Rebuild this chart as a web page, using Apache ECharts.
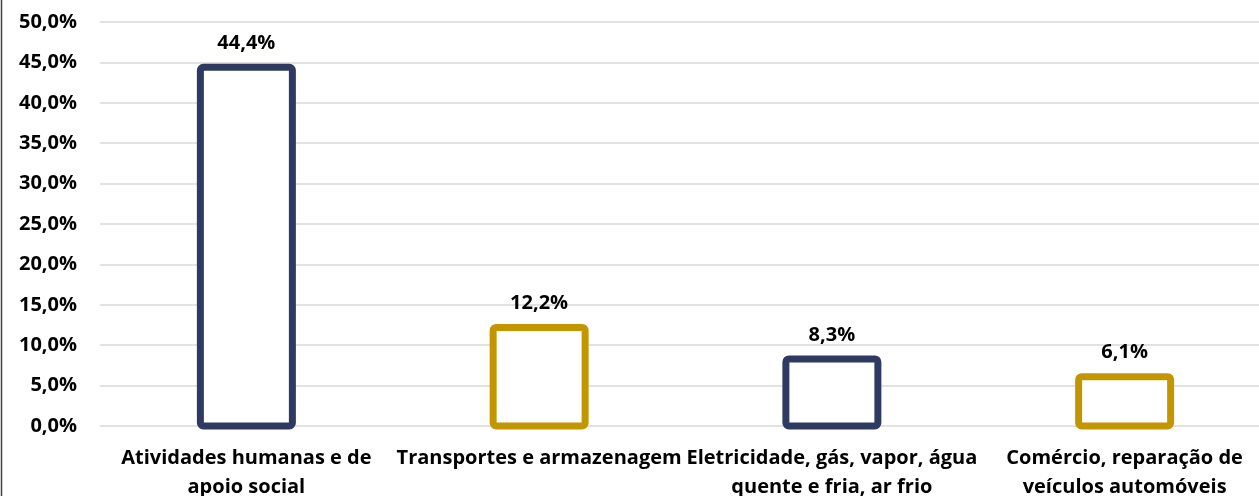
<!DOCTYPE html>
<html>
<head>
<meta charset="utf-8">
<script src="https://cdn.jsdelivr.net/npm/echarts@6/dist/echarts.min.js"></script>
<style>
  html, body { margin: 0; padding: 0; background: #fff; }
  #main { width: 1259px; height: 496px; }
</style>
</head>
<body>
<div id="main"></div>
<script>
// dados
var categorias = [
  'Atividades humanas e de\napoio social',
  'Transportes e armazenagem',
  'Eletricidade, gás, vapor, água\nquente e fria, ar frio',
  'Comércio, reparação de\nveículos automóveis'
];
var valores = [44.4, 12.2, 8.3, 6.1];
var cores = ['#2F3A62', '#C39600', '#2F3A62', '#C39600'];

var fonte = '"Open Sans", sans-serif';

function pct(v){
  return v.toFixed(1).replace('.', ',') + '%';
}

var chart = echarts.init(document.getElementById('main'));

chart.setOption({
  animation: false,
  grid: { left: 100, right: -12, top: 22, bottom: 70, outerBoundsMode: 'none', containLabel: false },
  graphic: [{
    type: 'line',
    shape: { x1: 1.5, y1: 0, x2: 1.5, y2: 496 },
    style: { stroke: '#404040', lineWidth: 1.5 }
  }],
  xAxis: {
    type: 'category',
    data: categorias,
    axisLine: { show: false },
    axisTick: { show: false },
    axisLabel: {
      interval: 0,
      margin: 18,
      color: '#000',
      fontFamily: fonte,
      fontWeight: 'bold',
      fontSize: 20,
      lineHeight: 29
    }
  },
  yAxis: {
    type: 'value',
    min: 0,
    max: 50,
    interval: 5,
    axisLine: { show: false },
    axisTick: { show: false },
    splitLine: { lineStyle: { color: '#D9D9D9', width: 1.5 } },
    axisLabel: {
      margin: 23,
      color: '#000',
      fontFamily: fonte,
      fontWeight: 'bold',
      fontSize: 20,
      formatter: function(v){ return pct(v); }
    }
  },
  series: [{
    type: 'custom',
    data: valores.map(function(v, i){ return [i, v]; }),
    renderItem: function(params, api){
      var i = api.value(0), v = api.value(1);
      var topo = api.coord([i, v]);
      var base = api.coord([i, 0]);
      var w = 92;
      return {
        type: 'group',
        children: [{
          type: 'rect',
          shape: { x: topo[0] - w / 2, y: topo[1], width: w, height: base[1] - topo[1], r: 3 },
          style: { fill: '#fff', stroke: cores[params.dataIndex], lineWidth: 7 }
        }, {
          type: 'text',
          x: topo[0],
          y: topo[1] - 24,
          style: {
            text: pct(v),
            align: 'center',
            verticalAlign: 'middle',
            fill: '#000',
            font: 'bold 20px ' + fonte
          }
        }]
      };
    }
  }]
});
</script>
</body>
</html>
